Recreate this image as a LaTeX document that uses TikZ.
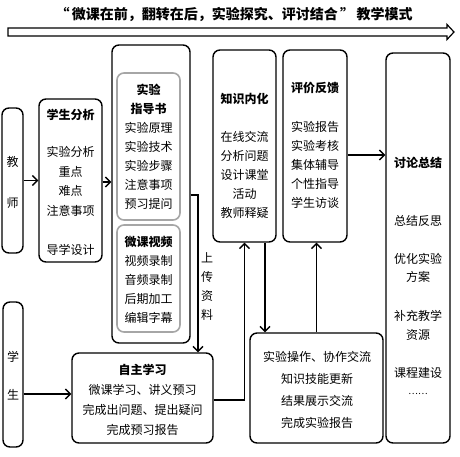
\documentclass[tikz,border=0pt]{standalone}
\usepackage{fontspec}
\setmainfont{Noto Sans CJK SC}
\usetikzlibrary{arrows.meta}
\tikzset{
  box/.style={draw, line width=1.4pt, rounded corners=7pt, inner sep=0pt},
  gbox/.style={draw=black!35, line width=1.6pt, rounded corners=7pt, inner sep=0pt},
  txt/.style={inner sep=0pt, align=center, font=\fontsize{12}{19}\selectfont},
  hd/.style={inner sep=0pt, align=center, font=\fontsize{12}{19}\selectfont\bfseries},
  arr/.style={line width=1.5pt, -{Straight Barb[length=5pt,width=10pt,line width=1.3pt]}},
  ln/.style={line width=1.5pt}
}
\begin{document}
\begin{tikzpicture}[x=1pt,y=-1pt]
\useasboundingbox (0,0) rectangle (460,456);
% title and big arrow
\node[inner sep=0pt, font=\fontsize{14}{16}\selectfont\bfseries] (title) at (234,14) {“\,微课在前，翻转在后，实验探究、评讨结合\,”\,教学模式};
\draw[line width=1.2pt, line join=miter] (8,28) -- (447,28) -- (447,24.5) -- (454,32) -- (447,39.5) -- (447,36) -- (8,36) -- cycle;

% boxes
\node[box, minimum width=21pt, minimum height=145pt] (teacher) at (12.5,180.5) {};
\node[box, minimum width=63pt, minimum height=163pt] (xsfx) at (70.5,180.5) {};
\node[box, minimum width=78pt, minimum height=298pt] (syout) at (151,194) {};
\node[gbox, minimum width=63pt, minimum height=147pt] (zdsh) at (148.5,146.5) {};
\node[gbox, minimum width=63pt, minimum height=107pt] (wksp) at (148.5,278.5) {};
\node[box, minimum width=63pt, minimum height=192pt] (zsnh) at (244.5,146) {};
\node[box, minimum width=64pt, minimum height=192pt] (pjfk) at (315,146) {};
\node[box, minimum width=64pt, minimum height=390pt] (tlzj) at (418,248) {};
\node[box, minimum width=20pt, minimum height=145pt] (student) at (13,374.5) {};
\node[box, minimum width=141pt, minimum height=90pt] (zzxx) at (142.5,398) {};
\node[box, minimum width=133pt, minimum height=110pt] (sycz) at (316.5,388) {};

% texts
\node[txt, font=\fontsize{12}{41}\selectfont] (tjs) at (12.5,182.5) {教\\师};
\node[txt, font=\fontsize{12}{38}\selectfont] (txs) at (13,376) {学\\生};

\node[hd] (t1a) at (70.5,115) {学生分析};
\node[txt, font=\fontsize{12}{19.7}\selectfont] (t1b) at (70.5,181.5) {实验分析\\重点\\难点\\注意事项};
\node[txt] (t1c) at (70.5,250) {导学设计};

\node[txt] (t2) at (148.5,147) {\textbf{实验}\\\textbf{指导书}\\实验原理\\实验技术\\实验步骤\\注意事项\\预习提问};
\node[txt] (t3) at (148.5,280) {\textbf{微课视频}\\视频录制\\音频录制\\后期加工\\编辑字幕};

\node[txt] (tup) at (207,286.5) {上\\传\\资\\料};

\node[hd] (t4a) at (244.5,99) {知识内化};
\node[txt] (t4b) at (244.5,175) {在线交流\\分析问题\\设计课堂\\活动\\教师释疑};

\node[hd] (t5a) at (315,88) {评价反馈};
\node[txt] (t5b) at (315,165) {实验报告\\实验考核\\集体辅导\\个性指导\\学生访谈};

\node[hd] (t6a) at (418,163) {讨论总结};
\node[txt] (t6b) at (418,221) {总结反思};
\node[txt, font=\fontsize{12}{18.5}\selectfont] (t6c) at (418,268) {优化实验\\方案};
\node[txt, font=\fontsize{12}{18.5}\selectfont] (t6d) at (418,325.5) {补充教学\\资源};
\node[txt] (t6e) at (418,373) {课程建设};
\node[txt, font=\fontsize{9}{10}\selectfont] (t6f) at (418,394) {……};

\node[txt, font=\fontsize{12}{20}\selectfont] (t7) at (142.5,400) {\textbf{自主学习}\\微课学习、讲义预习\\完成出问题、提出疑问\\完成预习报告};
\node[txt, font=\fontsize{12}{22}\selectfont] (t8) at (317,390) {实验操作、协作交流\\知识技能更新\\结果展示交流\\完成实验报告};

% connectors
\draw[arr] (teacher.east) -- (xsfx.west);
\coordinate (xe) at ([yshift=-1.5pt]xsfx.east);
\draw[arr] (xe) -- (xe -| syout.west);
\coordinate (se) at (student.east |- 0,394);
\draw[arr] (se) -- (se -| zzxx.west);
\coordinate (so) at (syout.east |- 0,195);
\coordinate (sd) at (198,195);
\draw[arr] (so) -- (sd) -- (sd |- zzxx.north);
\coordinate (ze) at (zzxx.east |- 0,400);
\draw[arr] (ze) -| (zsnh.south);
\coordinate (zd) at (265,0);
\draw[arr] (zd |- zsnh.south) -- (zd |- sycz.north);
\draw[arr] (sycz.north) -- (sycz.north |- pjfk.south);
\coordinate (pe) at (pjfk.east |- 0,155);
\draw[arr] (pe) -- (pe -| tlzj.west);
\end{tikzpicture}
\end{document}
